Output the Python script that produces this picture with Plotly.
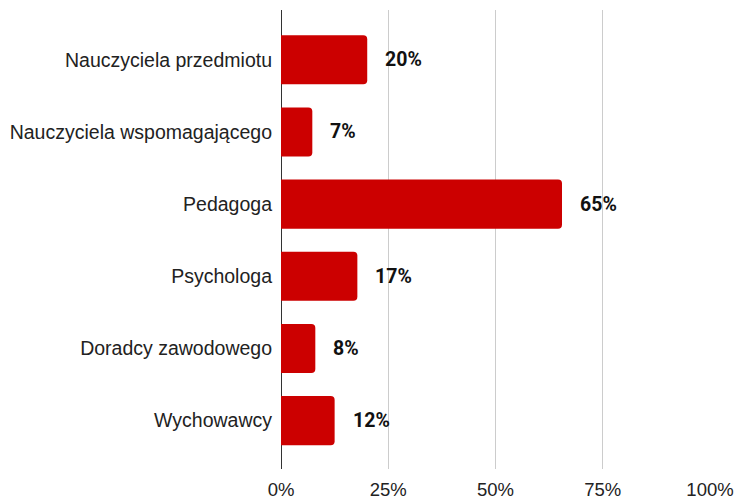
import plotly.graph_objects as go

categories = ["Nauczyciela przedmiotu", "Nauczyciela wspomagającego", "Pedagoga",
              "Psychologa", "Doradcy zawodowego", "Wychowawcy"]
values = [0.201, 0.073, 0.655, 0.178, 0.080, 0.125]
value_labels = ["20%", "7%", "65%", "17%", "8%", "12%"]
x_ticks = [0, 0.25, 0.5, 0.75, 1.0]
x_tick_labels = ["0%", "25%", "50%", "75%", "100%"]

fig = go.Figure()
fig.add_trace(go.Bar(
    x=values, y=categories, orientation="h",
    marker=dict(color="#cc0000", line=dict(width=0)),
    hoverinfo="skip",
))

for c, v, t in zip(categories, values, value_labels):
    fig.add_annotation(x=v, y=c, text="<b>" + t + "</b>", showarrow=False,
                       xanchor="left", xshift=16,
                       font=dict(family="Roboto, Liberation Sans, Arial", size=19.5, color="#111111"))

fig.update_layout(
    width=736, height=499,
    margin=dict(l=281, r=26, t=10, b=30, autoexpand=False),
    paper_bgcolor="white", plot_bgcolor="white",
    bargap=0.32, barcornerradius=4,
    showlegend=False,
    font=dict(family="Liberation Sans, Arial", size=19.5, color="#222222"),
)
fig.update_xaxes(
    range=[0, 1.0], tickvals=x_ticks, ticktext=x_tick_labels,
    showgrid=True, gridcolor="#cccccc", gridwidth=1,
    zeroline=True, zerolinecolor="#333333", zerolinewidth=1,
    showline=False, ticks="", ticklabelstandoff=7, automargin=False,
    tickfont=dict(size=18.5, color="#222222"), fixedrange=True,
)
fig.update_yaxes(
    type="category", categoryorder="array", categoryarray=categories,
    range=[5.67, -0.69], automargin=False,
    showgrid=False, showline=False, ticks="", ticklabelstandoff=8,
    tickfont=dict(size=19.5, color="#222222"), fixedrange=True,
)

fig.write_html(
    "out.html",
    config={"displayModeBar": False, "staticPlot": True},
    post_script="document.body.style.margin='0';document.body.style.overflow='hidden';",
)
